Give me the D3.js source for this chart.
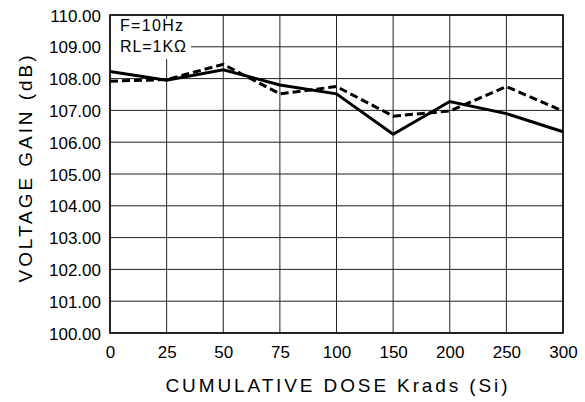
<!DOCTYPE html>
<html>
<head>
<meta charset="utf-8">
<script src="https://cdn.jsdelivr.net/npm/d3@7"></script>
<style>
  body { margin: 0; background: #fff; }
  text { font-family: "Liberation Sans", Arial, sans-serif; fill: #000; }
</style>
</head>
<body>
<div id="main"></div>
<script>
// chart data
const doses = ['0', '25', '50', '75', '100', '150', '200', '250', '300'];
const gainSolid = [108.22, 107.95, 108.28, 107.8, 107.52, 106.25, 107.28, 106.9, 106.33];
const gainDashed = [107.92, 107.97, 108.45, 107.52, 107.75, 106.82, 106.98, 107.75, 106.98];
const yTicks = [100, 101, 102, 103, 104, 105, 106, 107, 108, 109, 110];
const notes = ['F=10Hz', 'RL=1K\u03A9'];

const width = 585, height = 402;
const margin = { top: 15, right: 22, bottom: 69, left: 110 };
const chartWidth = width - margin.left - margin.right;
const chartHeight = height - margin.top - margin.bottom;

const svg = d3.select('#main')
    .append('svg')
    .attr('width', width)
    .attr('height', height);

const g = svg.append('g')
    .attr('transform', `translate(${margin.left}, ${margin.top})`);

// dose ticks are evenly spaced even though values are not
const xScale = d3.scalePoint()
    .domain(doses)
    .range([0, chartWidth]);

const yScale = d3.scaleLinear()
    .domain([100, 110])
    .range([chartHeight, 0]);

// grid
g.append('g')
    .selectAll('line')
    .data(doses)
    .enter()
    .append('line')
    .attr('x1', d => xScale(d)).attr('x2', d => xScale(d))
    .attr('y1', 0).attr('y2', chartHeight)
    .attr('stroke', '#222').attr('stroke-width', 1);

g.append('g')
    .selectAll('line')
    .data(yTicks)
    .enter()
    .append('line')
    .attr('x1', 0).attr('x2', chartWidth)
    .attr('y1', d => yScale(d)).attr('y2', d => yScale(d))
    .attr('stroke', '#222').attr('stroke-width', 1);

// axes
const xAxis = g.append('g')
    .attr('transform', `translate(0, ${chartHeight})`)
    .call(d3.axisBottom(xScale).tickSize(0).tickPadding(9));
const yAxis = g.append('g')
    .call(d3.axisLeft(yScale).tickValues(yTicks).tickFormat(d3.format('.2f')).tickSize(0).tickPadding(9));

[xAxis, yAxis].forEach(a => {
    a.select('.domain').remove();
    a.selectAll('text').style('font-size', '17px').attr('fill', '#000');
});
xAxis.selectAll('text').attr('dy', '0.95em');
yAxis.selectAll('text').attr('dy', '0.36em');

// frame
g.append('rect')
    .attr('width', chartWidth).attr('height', chartHeight)
    .attr('fill', 'none').attr('stroke', '#000').attr('stroke-width', 1.5);

// notes box
g.append('rect')
    .attr('x', 1).attr('y', 4)
    .attr('width', 80).attr('height', 40)
    .attr('fill', '#fff');
g.selectAll('.note')
    .data(notes)
    .enter()
    .append('text')
    .attr('class', 'note')
    .attr('x', 10)
    .attr('y', (d, i) => 16 + i * 21)
    .attr('textLength', (d, i) => i ? 66 : 63)
    .attr('lengthAdjust', 'spacing')
    .style('font-size', '16px')
    .text(d => d);

const line = d3.line()
    .x((d, i) => xScale(doses[i]))
    .y(d => yScale(d));

g.append('path')
    .datum(gainDashed)
    .attr('fill', 'none')
    .attr('stroke', '#000')
    .attr('stroke-width', 3)
    .attr('stroke-dasharray', '8,4')
    .attr('d', line);

g.append('path')
    .datum(gainSolid)
    .attr('fill', 'none')
    .attr('stroke', '#000')
    .attr('stroke-width', 3)
    .attr('d', line);

// axis titles
svg.append('text')
    .attr('x', margin.left + chartWidth / 2)
    .attr('y', 392)
    .attr('text-anchor', 'middle')
    .attr('textLength', 342)
    .attr('lengthAdjust', 'spacing')
    .style('font-size', '19px')
    .text('CUMULATIVE DOSE Krads (Si)');

svg.append('text')
    .attr('transform', 'translate(32, 169) rotate(-90)')
    .attr('text-anchor', 'middle')
    .attr('textLength', 227)
    .attr('lengthAdjust', 'spacing')
    .style('font-size', '19px')
    .text('VOLTAGE GAIN (dB)');
</script>
</body>
</html>
